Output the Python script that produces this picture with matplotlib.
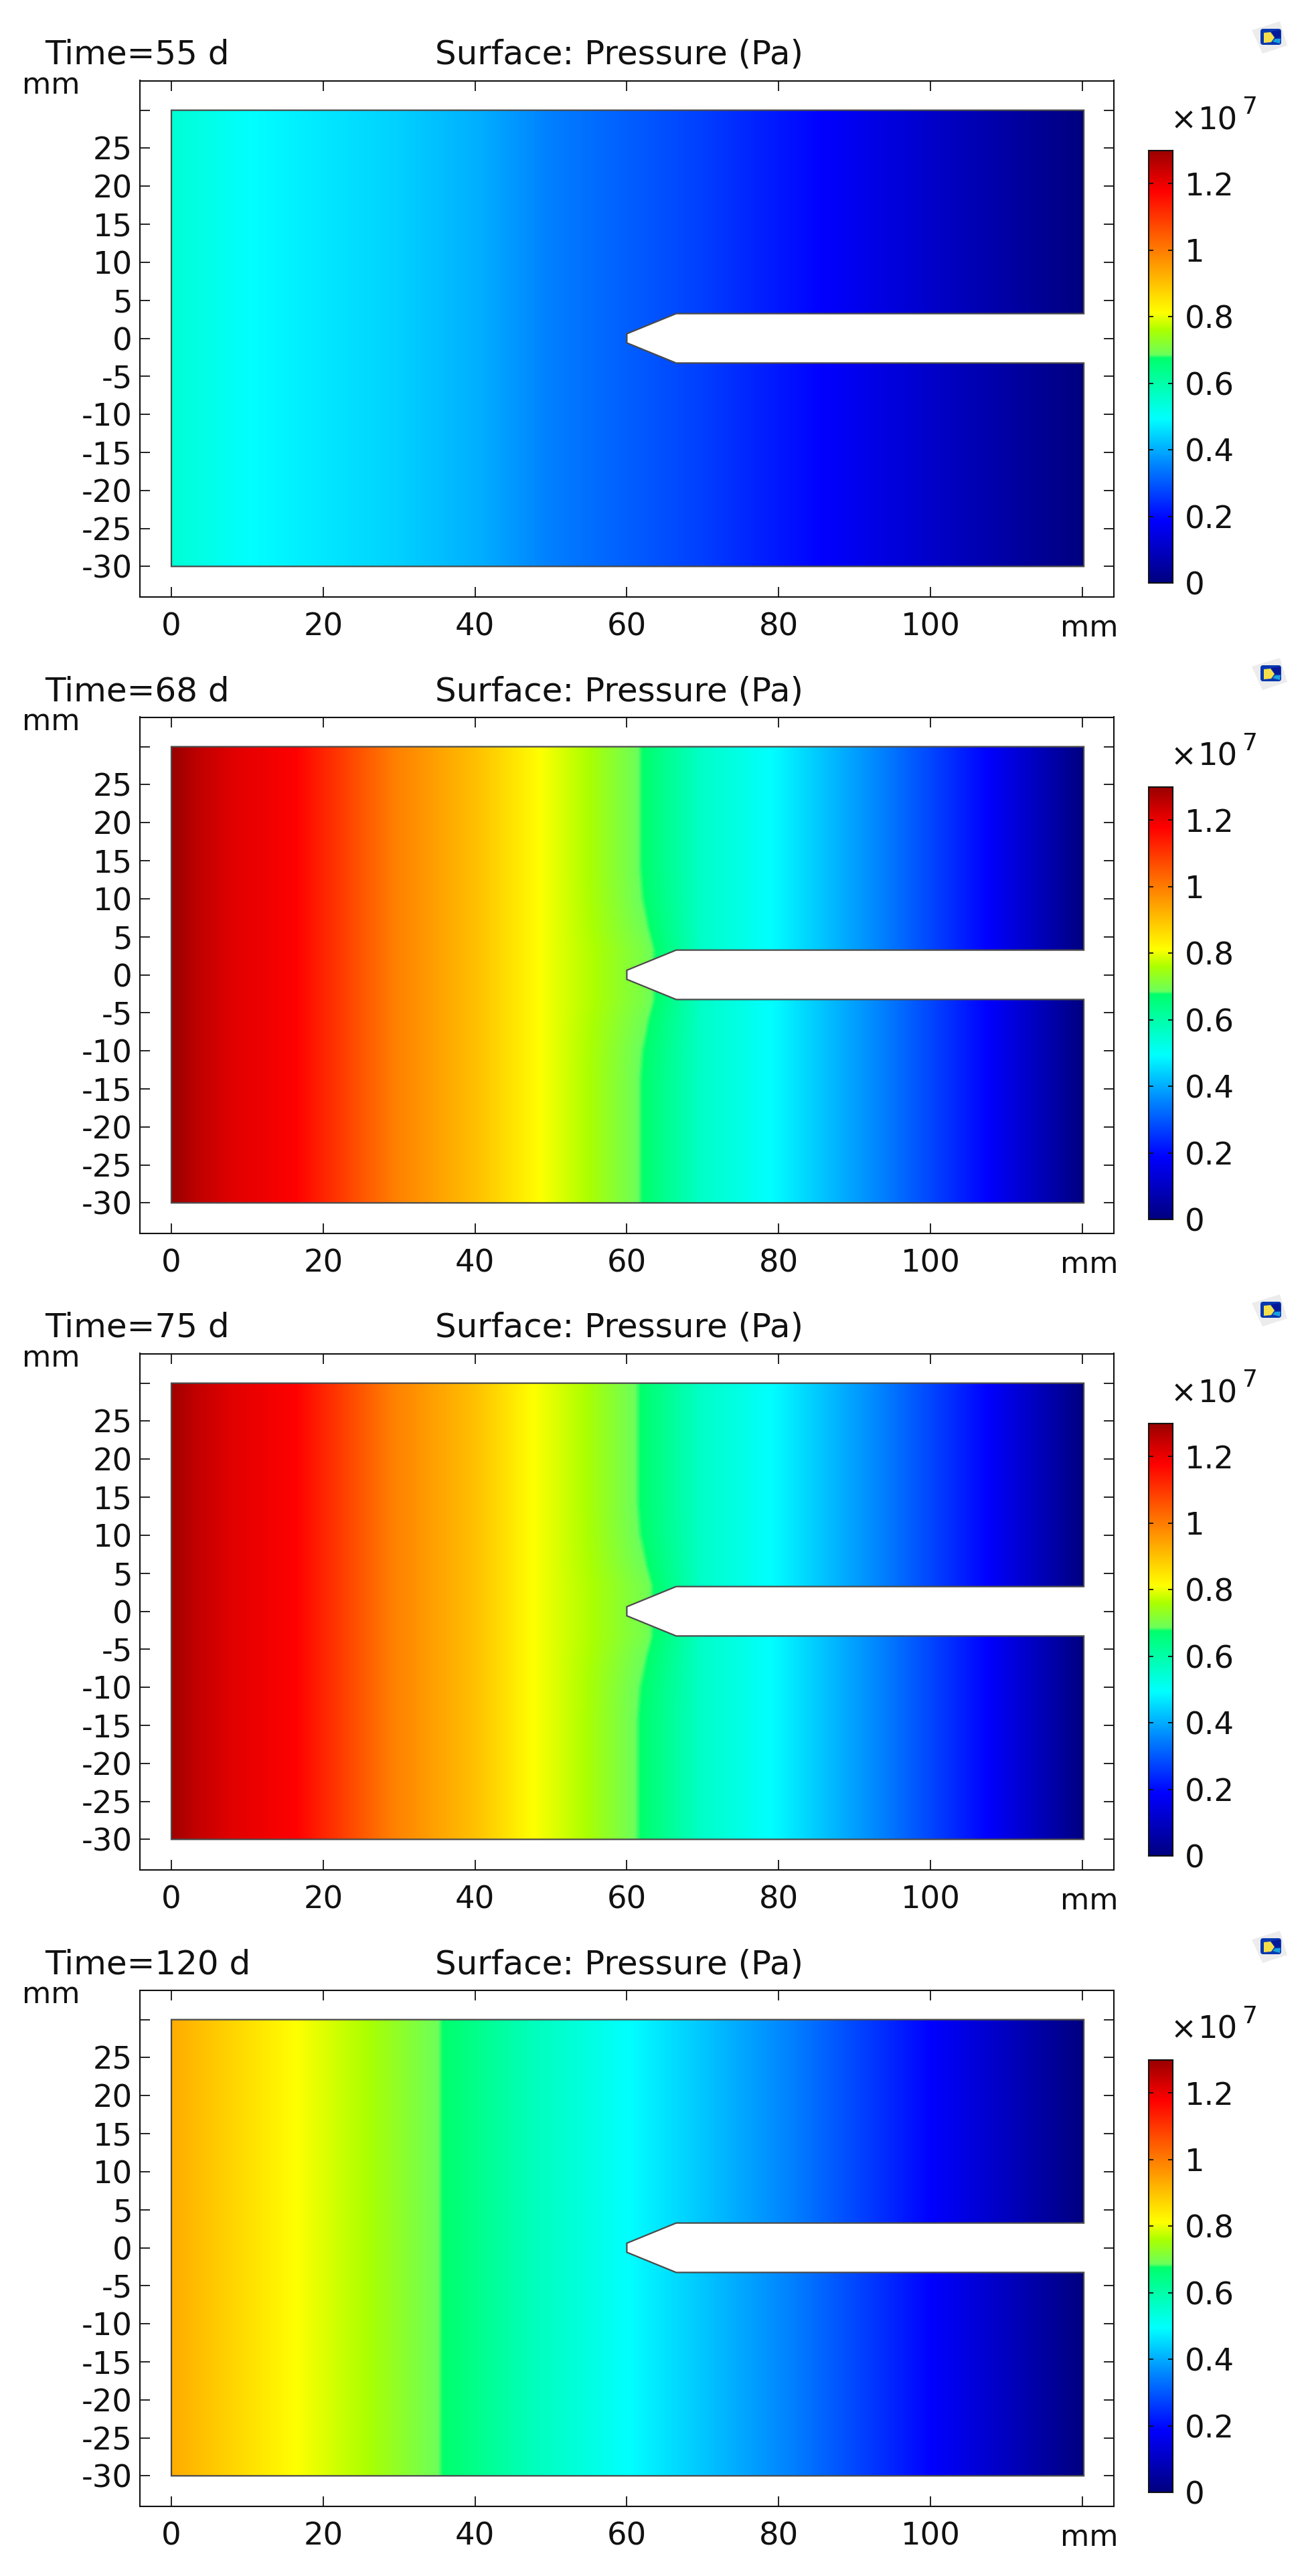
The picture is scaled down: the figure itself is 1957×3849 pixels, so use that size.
import numpy as np
import matplotlib
matplotlib.use("Agg")
import matplotlib.pyplot as plt
from matplotlib.colors import LinearSegmentedColormap
from matplotlib.patches import Polygon, FancyBboxPatch

W, H = 1957, 3849
plt.rcParams['font.family'] = ['DejaVu Sans']

# ---------- data ----------
times = ["Time=55 d", "Time=68 d", "Time=75 d", "Time=120 d"]
title = "Surface: Pressure (Pa)"

# pressure profile along x (mm -> 1e7 Pa)
x_55 = [0, 10.4, 30, 41, 50, 69.5, 86, 103, 120.2]
p_55 = [0.546, 0.493, 0.44, 0.40, 0.348, 0.268, 0.187, 0.094, 0.0]
x_68 = [0, 3.3, 8, 16.3, 29.3, 40.3, 48.5, 54.8, 61.0, 62.4, 70, 79, 93.8, 107.6, 120.2]
p_68 = [1.30, 1.256, 1.214, 1.178, 0.995, 0.90, 0.811, 0.76, 0.69, 0.672, 0.56, 0.493, 0.348, 0.187, 0.0]
x_75 = [0, 3.3, 8, 16.3, 29.0, 40.0, 47.7, 54.5, 60.7, 62.1, 70, 79, 93.8, 107.6, 120.2]
p_75 = [1.29, 1.25, 1.212, 1.178, 0.995, 0.90, 0.811, 0.76, 0.69, 0.672, 0.56, 0.493, 0.348, 0.187, 0.0]
x_120 = [0, 16.3, 25.7, 34.7, 36.1, 47, 60.4, 82, 100.2, 120.2]
p_120 = [0.93, 0.811, 0.76, 0.69, 0.672, 0.58, 0.493, 0.348, 0.187, 0.0]

# sideways bend of the contours near the notch (panels 68 d and 75 d)
bend_y = [0, 3.3, 6, 10, 14, 30]
bend_mm = [2.2, 2.2, 1.2, 0.3, 0.0, 0.0]
bend_x = [50, 60, 62, 70]
bend_w = [0.0, 0.7, 1.0, 0.0]
bend_on = [False, True, True, False]

# specimen outline (mm)
outline_x = [0, 120.2, 120.2, 66.5, 60, 60, 66.5, 120.2, 120.2, 0]
outline_y = [-30, -30, -3.25, -3.25, -0.6, 0.6, 3.25, 3.25, 30, 30]

xticks = [0, 20, 40, 60, 80, 100, 120]
xticklabels = ["0", "20", "40", "60", "80", "100", ""]
yticks = [-30, -25, -20, -15, -10, -5, 0, 5, 10, 15, 20, 25, 30]
yticklabels = ["-30", "-25", "-20", "-15", "-10", "-5", "0", "5", "10", "15", "20", "25", ""]
cbar_ticks = [0, 0.2, 0.4, 0.6, 0.8, 1.0, 1.2]
cbar_labels = ["0", "0.2", "0.4", "0.6", "0.8", "1", "1.2"]
cbar_max = 1.3

# colour scale stops
cmap_pos = [0, .144, .268, .379, .52, .527, .584, .624, .765, .906, 1]
cmap_rgb = [(0, 0, .5), (0, 0, 1), (0, .5, 1), (0, 1, 1), (0, 1, .42), (.42, 1, .36),
            (.67, 1, 0), (1, 1, 0), (1, .5, 0), (1, 0, 0), (.6, 0, 0)]
cmap = LinearSegmentedColormap.from_list("press", list(zip(cmap_pos, cmap_rgb)), N=1024)

profiles = [(x_55, p_55), (x_68, p_68), (x_75, p_75), (x_120, p_120)]

# ---------- layout in pixels ----------
PANEL_DY = 951
FS_TICK = 33.5
FS_HEAD = 36
FS_MM = 32
BLACK = "#111111"


def axpx(left, top, right, bottom, **kw):
    return fig.add_axes([left / W, 1 - bottom / H, (right - left) / W, (bottom - top) / H], **kw)


fig = plt.figure(figsize=(W / 100, H / 100), dpi=100, facecolor="white")
over = axpx(0, 0, W, H, zorder=10)
over.set_xlim(0, W)
over.set_ylim(H, 0)
over.axis("off")
over.patch.set_alpha(0)

xf = np.linspace(0, 120.2, 1400)
yf = np.linspace(-30, 30, 700)
XF, YF = np.meshgrid(xf, yf)


def draw_icon(dy):
    def shape(pts, color):
        over.add_patch(Polygon([(a, b + dy) for a, b in pts], closed=True, fc=color, ec="none"))
    shape([(1870, 45), (1912, 32), (1923, 68), (1886, 80)], "#ececec")
    over.add_patch(FancyBboxPatch((1884, 44 + dy), 29, 22, boxstyle="round,pad=1,rounding_size=4",
                                  fc="#0838b0", ec="none"))
    shape([(1888, 49), (1898, 48), (1904, 56), (1899, 63), (1888, 64)], "#f6e04a")
    shape([(1899, 47), (1912, 45), (1913, 56), (1905, 57)], "#06189a")
    shape([(1901, 62), (1905, 58), (1913, 58), (1912, 65)], "#1aa0e0")


for i in range(4):
    dy = i * PANEL_DY
    ax = axpx(208.5, 120.5 + dy, 1664, 892 + dy)

    px, pv = profiles[i]
    xs = XF
    if bend_on[i]:
        xs = XF - np.interp(np.abs(YF), bend_y, bend_mm) * np.interp(XF, bend_x, bend_w)
    field = np.interp(xs, px, pv)
    im = ax.imshow(field, origin="lower", extent=(0, 120.2, -30, 30), aspect="auto",
                   cmap=cmap, vmin=0, vmax=cbar_max, interpolation="bilinear", zorder=1)
    ax.set_xlim(-4.19, 124.16)
    ax.set_ylim(-34.02, 33.89)
    verts = list(zip(outline_x, outline_y))
    clip = Polygon(verts, closed=True, transform=ax.transData, fc="none", ec="none")
    ax.add_patch(clip)
    im.set_clip_path(clip)
    ax.add_patch(Polygon(verts, closed=True, fc="none", ec="#4a4a4a", lw=1.6, zorder=3,
                         joinstyle="miter"))

    ax.set_xticks(xticks, xticklabels)
    ax.set_yticks(yticks, yticklabels)
    ax.tick_params(axis="both", which="major", direction="in", length=10.6, width=1.3,
                   top=True, right=True, labelsize=FS_TICK, color=BLACK, labelcolor=BLACK)
    ax.tick_params(axis="x", pad=16)
    ax.tick_params(axis="y", pad=7.5)
    for s in ax.spines.values():
        s.set_linewidth(1.5)
        s.set_color(BLACK)

    over.text(67, 96 + dy, times[i], fontsize=FS_HEAD, va="baseline", ha="left", color=BLACK)
    over.text(650, 96 + dy, title, fontsize=FS_HEAD, va="baseline", ha="left", color=BLACK)
    over.text(33, 140 + dy, "mm", fontsize=FS_MM, va="baseline", ha="left", color=BLACK)
    over.text(1584, 951 + dy, "mm", fontsize=FS_MM, va="baseline", ha="left", color=BLACK)

    # colour bar
    cax = axpx(1716, 224.5 + dy, 1752, 871 + dy)
    cax.imshow(np.linspace(0, cbar_max, 1024)[:, None], origin="lower", aspect="auto",
               extent=(0, 1, 0, cbar_max), cmap=cmap, vmin=0, vmax=cbar_max,
               interpolation="bilinear")
    cax.set_xticks([])
    cax.set_yticks(cbar_ticks, cbar_labels)
    cax.yaxis.tick_right()
    cax.tick_params(axis="y", direction="in", length=5, width=1.3, left=True, right=True,
                    labelsize=FS_TICK, pad=13, color=BLACK, labelcolor=BLACK)
    for s in cax.spines.values():
        s.set_linewidth(1.5)
        s.set_color(BLACK)

    over.text(1749, 193 + dy, "\u00d7", fontsize=FS_TICK, va="baseline", ha="left", color=BLACK)
    over.text(1790, 193 + dy, "10", fontsize=FS_TICK, va="baseline", ha="left", color=BLACK)
    over.text(1856, 170 + dy, "7", fontsize=26, va="baseline", ha="left", color=BLACK)

    draw_icon(dy)

fig.savefig("out.png", dpi=100, facecolor="white")
